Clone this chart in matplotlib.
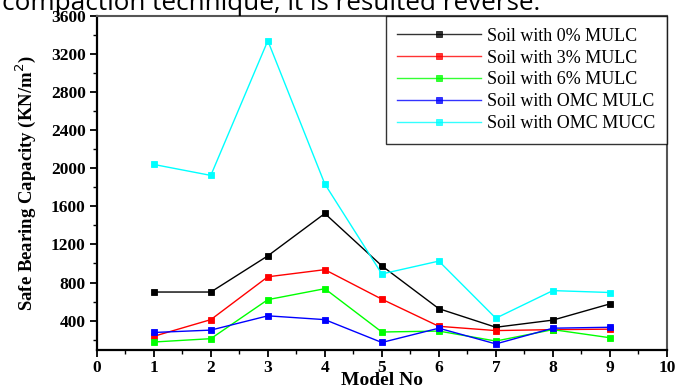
import numpy as np
import matplotlib
matplotlib.use("Agg")
import matplotlib.pyplot as plt
from matplotlib.ticker import MultipleLocator

# data
model_no = [1, 2, 3, 4, 5, 6, 7, 8, 9]
mulc_0 = [700, 700, 1080, 1525, 975, 525, 330, 405, 575]
mulc_3 = [235, 410, 860, 935, 625, 340, 295, 305, 310]
mulc_6 = [175, 210, 620, 735, 280, 290, 185, 305, 220]
omc_mulc = [275, 300, 450, 410, 170, 320, 155, 320, 330]
omc_mucc = [2040, 1925, 3340, 1835, 890, 1025, 425, 715, 695]

labels = ["Soil with 0% MULC", "Soil with 3% MULC", "Soil with 6% MULC",
          "Soil with OMC MULC", "Soil with OMC MUCC"]
colors = ["#000000", "#ff0000", "#00ff00", "#0000ff", "#00ffff"]
series = [mulc_0, mulc_3, mulc_6, omc_mulc, omc_mucc]

serif = ["Liberation Serif", "DejaVu Serif"]

fig = plt.figure(figsize=(6.77, 3.89), dpi=100)
ax = fig.add_axes([0.143, 0.1, 0.842, 0.859])

for vals, lab, col in zip(series, labels, colors):
    ax.plot(model_no, vals, color=col, lw=1.0, marker="s", markersize=5,
            markeredgecolor=col, markeredgewidth=0.6, label=lab)

ax.set_xlim(0, 10)
ax.set_ylim(90, 3600)
ax.xaxis.set_major_locator(MultipleLocator(1))
ax.xaxis.set_minor_locator(MultipleLocator(0.5))
ax.set_yticks(np.arange(400, 3601, 400))
ax.yaxis.set_minor_locator(MultipleLocator(200))
ax.tick_params(which="major", direction="out", length=5, width=1.3, pad=3)
ax.tick_params(axis="x", which="major", pad=2)
ax.tick_params(which="minor", direction="out", length=3, width=1.0)
for lab in ax.get_xticklabels() + ax.get_yticklabels():
    lab.set_fontfamily(serif)
    lab.set_fontweight("bold")
    lab.set_fontsize(12.5)

for side in ["left", "bottom"]:
    ax.spines[side].set_linewidth(1.6)
for side in ["top", "right"]:
    ax.spines[side].set_linewidth(1.5)
    ax.spines[side].set_color("#555555")

ax.set_xlabel("Model No", fontfamily=serif, fontweight="bold", fontsize=14,
              labelpad=-3)
ax.set_ylabel("Safe Bearing Capacity (KN/m$^2$)", fontfamily=serif,
              fontweight="bold", fontsize=13.5, labelpad=9)

leg = ax.legend(loc="upper right", bbox_to_anchor=(1, 1), borderaxespad=0,
                prop={"family": serif, "size": 13}, fancybox=False,
                edgecolor="black", handlelength=4.6, labelspacing=0.27,
                borderpad=0.65, handletextpad=0.35)
leg.get_frame().set_linewidth(1.0)
for line in leg.get_lines():
    line.set_alpha(0.8)

# clipped line of body text from the scanned page above the chart
fig.text(0.003, 1 - 9.5 / 389, "compaction technique, it is resulted reverse.",
         fontfamily="Open Sans", fontsize=18.8, va="baseline", ha="left")

fig.savefig("out.png", dpi=100)
